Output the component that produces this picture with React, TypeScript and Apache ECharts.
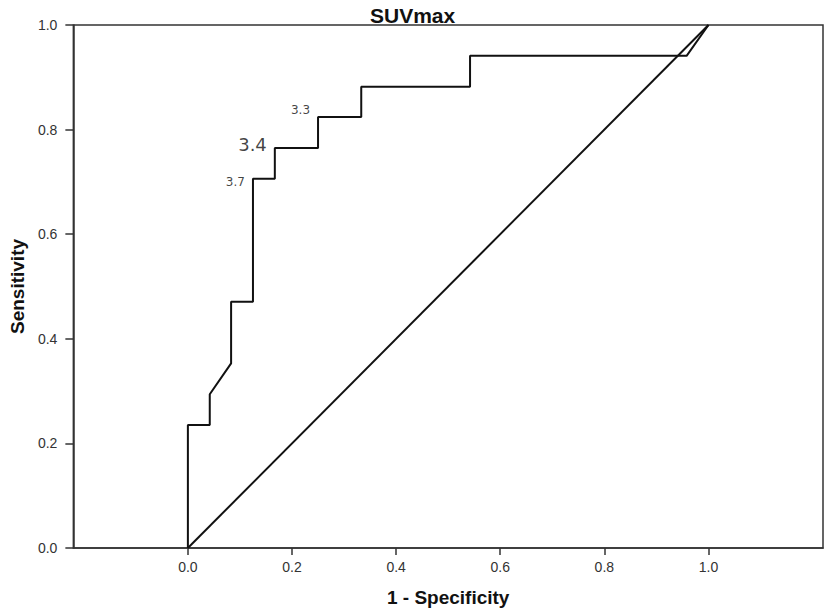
import React, { useEffect, useRef } from "react";
import * as echarts from "echarts";

// ROC curve (1 - specificity, sensitivity)
const fpr = [0, 0, 0.042, 0.042, 0.083, 0.083, 0.125, 0.125, 0.167, 0.167, 0.25, 0.25, 0.333, 0.333, 0.542, 0.542, 0.958, 1];
const tpr = [0, 0.235, 0.235, 0.294, 0.353, 0.471, 0.471, 0.706, 0.706, 0.765, 0.765, 0.824, 0.824, 0.882, 0.882, 0.941, 0.941, 1];

// reference diagonal
const refX = [0, 1];
const refY = [0, 1];

// cut-off annotations
const cutLabels = ["3.7", "3.4", "3.3"];
const cutX = [0.125, 0.167, 0.25];
const cutY = [0.706, 0.765, 0.824];
const cutFont = [12, 18, 12];
const cutOffsetY = [3, -3, -7];

const xTicks = ["0.0", "0.2", "0.4", "0.6", "0.8", "1.0"];

export default function App() {
  const ref = useRef<HTMLDivElement>(null);
  useEffect(() => {
    if (!ref.current) return;
    const chart = echarts.init(ref.current, null, { renderer: "svg" });
    const font = "'Liberation Sans', Arial, sans-serif";
    chart.setOption({
      animation: false,
      backgroundColor: "#fff",
      title: {
        text: "SUVmax",
        left: 365,
        top: 0,
        textStyle: { fontFamily: font, fontWeight: "bold", fontSize: 21, color: "#111" },
      },
      grid: {
        left: 68,
        right: 6,
        top: 25,
        bottom: 63,
        show: true,
        borderColor: "#333",
        borderWidth: 1.5,
        containLabel: false,
      },
      xAxis: {
        type: "value",
        min: -0.22,
        max: 1.22,
        name: "1 - Specificity",
        nameLocation: "middle",
        nameGap: 40,
        nameTextStyle: { fontFamily: font, fontWeight: "bold", fontSize: 19, color: "#111" },
        splitLine: { show: false },
        axisLine: { show: true, onZero: false, lineStyle: { color: "#333", width: 1.5 } },
        axisTick: {
          show: true,
          length: 7,
          lineStyle: { color: "#333", width: 1.5 },
          customValues: xTicks.map(Number),
        },
        axisLabel: {
          fontFamily: font,
          fontSize: 14,
          color: "#333",
          margin: 12,
          customValues: xTicks.map(Number),
          formatter: (v: number) => v.toFixed(1),
        },
      },
      yAxis: {
        type: "value",
        min: 0,
        max: 1,
        interval: 0.2,
        name: "Sensitivity",
        nameLocation: "middle",
        nameGap: 46,
        nameTextStyle: { fontFamily: font, fontWeight: "bold", fontSize: 19, color: "#111" },
        splitLine: { show: false },
        axisLine: { show: true, onZero: false, lineStyle: { color: "#333", width: 1.5 } },
        axisTick: { show: true, length: 8, lineStyle: { color: "#333", width: 1.5 } },
        axisLabel: {
          fontFamily: font,
          fontSize: 14,
          color: "#333",
          margin: 16,
          formatter: (v: number) => v.toFixed(1),
        },
      },
      series: [
        {
          type: "line",
          data: refX.map((x, i) => [x, refY[i]]),
          showSymbol: false,
          lineStyle: { color: "#111", width: 2 },
          silent: true,
        },
        {
          type: "line",
          data: fpr.map((x, i) => [x, tpr[i]]),
          showSymbol: false,
          lineStyle: { color: "#111", width: 2 },
          silent: true,
        },
        {
          type: "scatter",
          symbolSize: 0,
          silent: true,
          data: cutLabels.map((t, i) => ({
            value: [cutX[i], cutY[i]],
            label: {
              show: true,
              position: "left",
              distance: 8,
              offset: [0, cutOffsetY[i]],
              formatter: t,
              fontFamily: "'DejaVu Sans', sans-serif",
              fontSize: cutFont[i],
              color: "#111",
            },
          })),
        },
      ],
    });
    return () => chart.dispose();
  }, []);
  return (
    <div
      ref={ref}
      style={{ position: "fixed", left: 0, top: 0, width: 829, height: 612 }}
    />
  );
}
